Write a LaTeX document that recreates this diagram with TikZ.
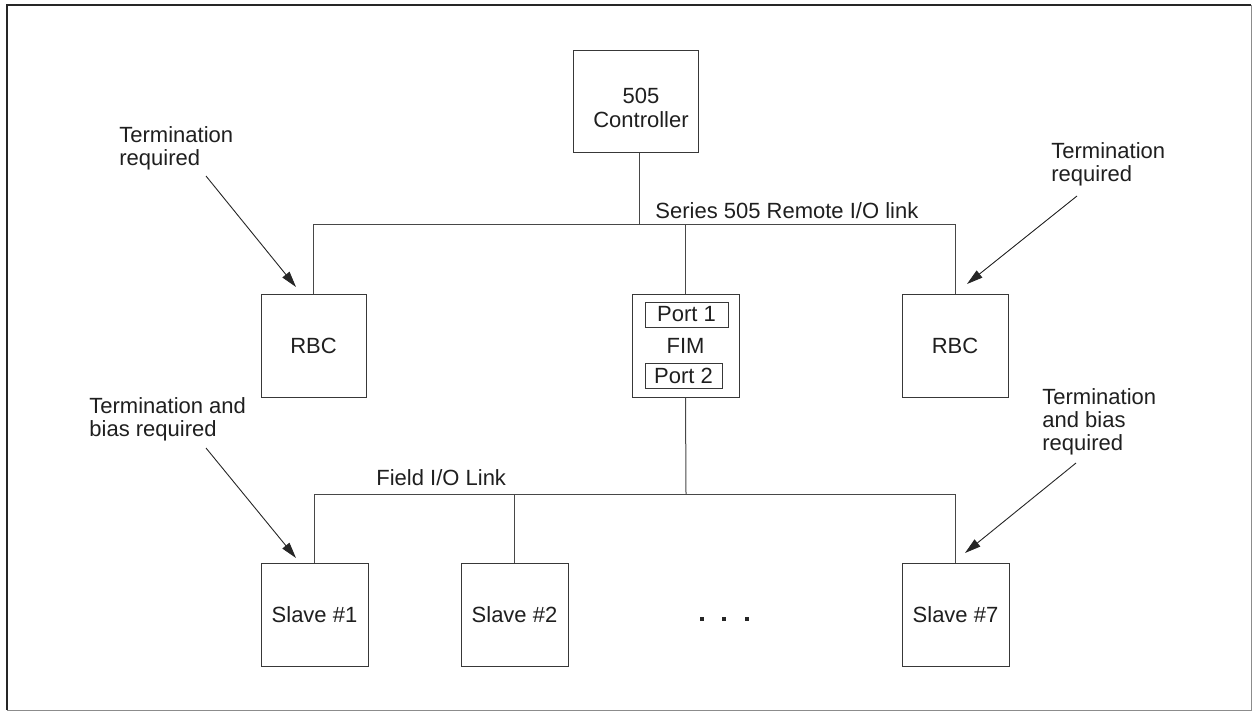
\documentclass[tikz,border=0pt]{standalone}
\usepackage{fontspec}
\setmainfont{Liberation Sans}
\usetikzlibrary{arrows.meta}
\begin{document}
\begin{tikzpicture}[x=0.5pt,y=-0.5pt,
  every node/.style={font=\fontsize{11}{11.6}\selectfont, text=black!88},
  box/.style={draw=black!78, line width=0.5pt, minimum width=#1*0.5pt, minimum height=51.5pt, inner sep=0pt},
  portbox/.style={draw=black!78, line width=0.5pt, minimum height=12.5pt, inner sep=0pt},
  wire/.style={draw=black!72, line width=0.5pt},
  pointer/.style={draw=black!85, line width=0.45pt, -{Triangle[length=8pt,width=4.5pt]}},
  note/.style={align=left, anchor=north west, inner sep=0pt}]
\useasboundingbox (0,0) rectangle (1252,711);
% frame
\draw[black!85, line width=1pt] (7,710) -- (7,5) -- (1251,5);
\draw[black!45, line width=0.5pt] (1251,5) -- (1251,710) -- (7,710);
% boxes
\node[box=125, minimum height=51pt] (ctrl) at (635.5,102) {};
\node[align=center, inner sep=0pt] (ctrlt) at (641,108) {505\\Controller};
\node[box=105] (rbcL) at (313.5,345.5) {RBC};
\node[box=107] (fim) at (685.5,345.5) {FIM};
\node[box=106] (rbcR) at (955,345.5) {RBC};
\node[portbox, minimum width=41.5pt] (p1) at (686.5,314.5) {Port 1};
\node[portbox, minimum width=38.5pt] (p2) at (683.5,375.5) {Port 2};
\node[box=107] (s1) at (314.5,614.5) {Slave \#1};
\node[box=107] (s2) at (514.5,614.5) {Slave \#2};
\node[box=107] (s7) at (955.5,614.5) {Slave \#7};
% links
\coordinate (j1) at (639,225);
\coordinate (fb) at (686,494);
\draw[wire] (j1 |- ctrl.south) -- (j1);
\draw[wire] (rbcL.north) |- (rbcR.north |- j1) -- (rbcR.north);
\draw[wire] (fim.north) -- (fim.north |- j1);
\draw[wire] (fim.south) -- (fb);
\draw[wire] (s1.north) |- (s7.north |- fb) -- (s7.north);
\draw[wire] (s2.north) -- (s2.north |- fb);
% link labels
\node[note] (lbl1) at (655,202) {Series 505 Remote I/O link};
\node[note] (lbl2) at (376,469) {Field I/O Link};
% notes
\node[note] (nTL) at (119,126) {Termination\\required};
\node[note] (nTR) at (1051,142) {Termination\\required};
\node[note] (nBL) at (89,397) {Termination and\\bias required};
\node[note] (nBR) at (1042,388) {Termination\\and bias\\required};
\coordinate (aTL) at (206,176); \coordinate (tTL) at (296,287);
\coordinate (aTR) at (1077,196); \coordinate (tTR) at (967,284);
\coordinate (aBL) at (206,448); \coordinate (tBL) at (296,558);
\coordinate (aBR) at (1076,463); \coordinate (tBR) at (965,553);
\draw[pointer] (aTL) -- (tTL);
\draw[pointer] (aTR) -- (tTR);
\draw[pointer] (aBL) -- (tBL);
\draw[pointer] (aBR) -- (tBR);
% ellipsis
\foreach \x in {702,724,747} \fill[black!85] (\x-2,617) rectangle (\x+2,621);
\end{tikzpicture}
\end{document}
